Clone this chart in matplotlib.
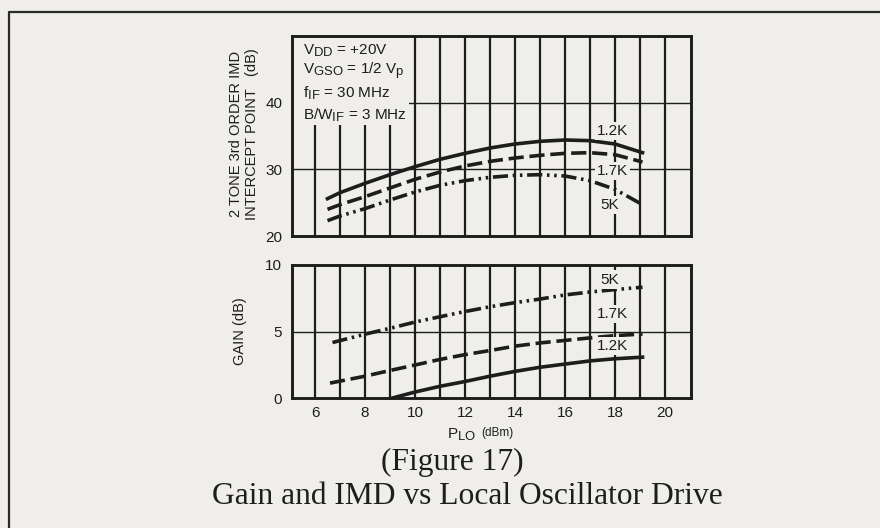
import matplotlib
matplotlib.use("Agg")
import matplotlib.pyplot as plt
from matplotlib.patches import Rectangle
from matplotlib.lines import Line2D

try:  # larger subscripts, closer to the typeset original
    import matplotlib._mathtext as _mt
    _mt.SHRINK_FACTOR = 0.85
except Exception:
    pass

# ---------------- data ----------------
plo_imd = [6.5, 7, 8, 9, 10, 11, 12, 13, 14, 15, 16, 17, 18, 19.1]
imd_1_2k = [25.6, 26.5, 27.9, 29.2, 30.4, 31.5, 32.4, 33.2, 33.8, 34.2, 34.4, 34.3, 33.8, 32.5]
imd_1_7k = [24.0, 24.7, 25.9, 27.2, 28.5, 29.6, 30.5, 31.2, 31.7, 32.1, 32.4, 32.5, 32.2, 31.1]
imd_5k = [22.3, 23.0, 24.1, 25.4, 26.6, 27.6, 28.3, 28.8, 29.1, 29.2, 29.0, 28.3, 27.0, 24.7]

plo_gain_5k = [6.7, 8, 9, 10, 11, 12, 13, 14, 15, 16, 17, 18, 19.1]
gain_5k = [4.17, 4.8, 5.24, 5.71, 6.11, 6.5, 6.86, 7.17, 7.44, 7.75, 7.97, 8.15, 8.33]
plo_gain_1_7k = [6.6, 8, 9, 10, 11, 12, 13, 14, 15, 16, 17, 18, 19.1]
gain_1_7k = [1.12, 1.64, 2.07, 2.48, 2.9, 3.26, 3.57, 3.9, 4.14, 4.33, 4.52, 4.69, 4.81]
plo_gain_1_2k = [9.1, 10, 11, 12, 13, 14, 15, 16, 17, 18, 19.1]
gain_1_2k = [0.0, 0.45, 0.88, 1.24, 1.64, 2.0, 2.31, 2.55, 2.79, 2.95, 3.07]

x_ticks = [6, 8, 10, 12, 14, 16, 18, 20]
imd_ticks = [20, 30, 40]
gain_ticks = [0, 5, 10]
series_labels = ["1.2K", "1.7K", "5K"]

conditions = [r"V$_{\mathregular{DD}}$ = +20V",
              r"V$_{\mathregular{GSO}}$ = 1/2 V$_{\mathregular{p}}$",
              r"f$_{\mathregular{IF}}$ = 30 MHz",
              r"B/W$_{\mathregular{IF}}$ = 3 MHz"]

# ---------------- style ----------------
paper = "#efeeeb"
ink = "#1d1d1d"
plt.rcParams["font.family"] = ["Liberation Sans", "DejaVu Sans"]
plt.rcParams["mathtext.fontset"] = "custom"
plt.rcParams["mathtext.rm"] = "Liberation Sans"

W, H = 880, 528
fig = plt.figure(figsize=(8.8, 5.28), dpi=100, facecolor=paper)


def fx(px):
    return px / W


def fy(py):
    return 1 - py / H


ax1 = fig.add_axes([fx(292), fy(236), fx(691) - fx(292), fy(36) - fy(236)])
ax2 = fig.add_axes([fx(292), fy(398), fx(691) - fx(292), fy(265) - fy(398)])

XL = (5.08, 21.04)
lw_curve = 2.6
styles = {
    "1.2K": dict(linestyle="-"),
    "1.7K": dict(dashes=(4.2, 1.6)),
    "5K": dict(dashes=(4.2, 1.3, 0.7, 1.3, 0.7, 1.3)),
}
FS = 11

for ax in (ax1, ax2):
    ax.set_facecolor(paper)
    ax.set_xlim(*XL)
    for s in ax.spines.values():
        s.set_linewidth(2.1)
        s.set_color(ink)
        s.set_zorder(5)
    for xv in range(6, 21):
        ax.axvline(xv, color=ink, lw=1.6, zorder=1)
    ax.tick_params(length=0, labelsize=FS, colors=ink, pad=7)

# top panel
ax1.set_ylim(20, 50)
ax1.set_yticks(imd_ticks)
ax1.set_xticks([])
for yv in (30, 40):
    ax1.axhline(yv, color=ink, lw=1.0, zorder=1)
ax1.add_patch(Rectangle((XL[0], 36.7), 9.75 - XL[0], 50 - 36.7,
                        facecolor=paper, edgecolor="none", zorder=1.5))
ax1.plot(plo_imd, imd_1_2k, color=ink, lw=lw_curve, zorder=3, **styles["1.2K"])
ax1.plot(plo_imd, imd_1_7k, color=ink, lw=lw_curve, zorder=3, **styles["1.7K"])
ax1.plot(plo_imd, imd_5k, color=ink, lw=lw_curve, zorder=3, **styles["5K"])

lab_kw = dict(fontsize=FS, color=ink, ha="center", va="center", zorder=4,
              bbox=dict(facecolor=paper, edgecolor="none", pad=1.5))
ax1.text(17.9, 35.8, series_labels[0], **lab_kw)
ax1.text(17.9, 29.8, series_labels[1], **lab_kw)
ax1.text(17.8, 24.6, series_labels[2], **lab_kw)

for i, line in enumerate(conditions):
    fig.text(fx(303), fy([54, 74, 97, 119][i]), line, fontsize=FS,
             color=ink, ha="left", va="baseline")

# bottom panel
ax2.set_ylim(0, 10)
ax2.set_yticks(gain_ticks)
ax2.set_xticks(x_ticks)
ax2.tick_params(axis="x", pad=6)
ax2.axhline(5, color=ink, lw=1.0, zorder=1)
ax2.plot(plo_gain_1_2k, gain_1_2k, color=ink, lw=lw_curve, zorder=3, **styles["1.2K"])
ax2.plot(plo_gain_1_7k, gain_1_7k, color=ink, lw=lw_curve, zorder=3, **styles["1.7K"])
ax2.plot(plo_gain_5k, gain_5k, color=ink, lw=lw_curve, zorder=3, **styles["5K"])
ax2.text(17.8, 8.9, series_labels[2], **lab_kw)
ax2.text(17.9, 6.3, series_labels[1], **lab_kw)
ax2.text(17.9, 3.9, series_labels[0], **lab_kw)

# axis titles
fig.text(fx(244), fy(134), "2 TONE 3rd ORDER IMD\nINTERCEPT POINT   (dB)",
         rotation=90, ha="center", va="center", multialignment="center",
         fontsize=10.5, color=ink, linespacing=1.25)
fig.text(fx(240), fy(331), "GAIN (dB)", rotation=90, ha="center", va="center",
         fontsize=10.5, color=ink)
fig.text(fx(447), fy(438), r"P$_{\mathregular{LO}}$", fontsize=FS, color=ink,
         ha="left", va="baseline")
fig.text(fx(481), fy(436), "(dBm)", fontsize=8.5, color=ink, ha="left", va="baseline")

# caption
fig.text(fx(452), fy(462), "(Figure 17)", fontsize=22.7, color=ink,
         family="Liberation Serif", ha="center", va="center")
fig.text(fx(467), fy(497), "Gain and IMD vs Local Oscillator Drive", fontsize=22.7,
         color=ink, family="Liberation Serif", ha="center", va="center")

# outer page frame
fig.add_artist(Line2D([fx(9), fx(9), 1.0], [0.0, fy(12), fy(12)],
                      color="#2a2a2a", lw=1.6, transform=fig.transFigure))

fig.savefig("out.png", dpi=100, facecolor=paper)
